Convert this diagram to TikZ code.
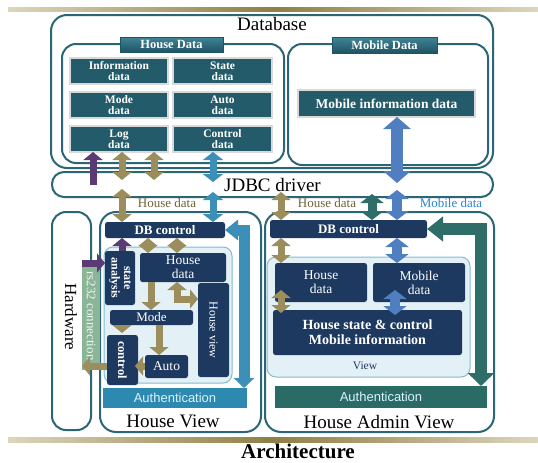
\documentclass[tikz,border=0pt]{standalone}
\usepackage{fontspec}
\setmainfont{Liberation Serif}
\newfontfamily\authfont{Liberation Sans}
\usetikzlibrary{arrows.meta}
\definecolor{tealc}{HTML}{2C6676}
\definecolor{cellc}{HTML}{245B6A}
\definecolor{navyc}{HTML}{1D3960}
\definecolor{olivec}{HTML}{9B8E5C}
\definecolor{olivet}{HTML}{6E6238}
\definecolor{bluec}{HTML}{3C8FB6}
\definecolor{mobc}{HTML}{4F7FC0}
\definecolor{mobt}{HTML}{2A86D0}
\definecolor{tgrc}{HTML}{2F6E68}
\definecolor{purc}{HTML}{5B3B73}
\definecolor{viewf}{HTML}{E3F0F6}
\definecolor{viewd}{HTML}{84BCD0}
\definecolor{rsc}{HTML}{8BB597}
\definecolor{authLc}{HTML}{2E89B0}
\definecolor{authRc}{HTML}{2B6B66}
\definecolor{goldL}{HTML}{DCD6BC}
\definecolor{goldD}{HTML}{8D7F45}
\definecolor{tabT}{HTML}{3F8496}
\definecolor{tabB}{HTML}{1F5464}
\newcommand\fsz[2][]{\fontsize{#2}{#2}\selectfont}
\newcommand\rbox[7]{\node[#2, minimum width={#5-#3}, minimum height={#6-#4}] (#1) at ({(#3+#5)/2},{(#4+#6)/2}) {#7};}
\begin{document}
\begin{tikzpicture}[x=1pt,y=-1pt,
  bx/.style={inner sep=0pt, outer sep=0pt},
  grp/.style={bx, draw=tealc, line width=2pt, rounded corners=16pt, fill=white},
  cell/.style={bx, fill=cellc, draw=black!15, line width=1.2pt, text=white, align=center, font=\bfseries\fontsize{11.5}{11}\selectfont},
  tabbox/.style={bx, top color=tabT, bottom color=tabB, draw=tabB, line width=0.6pt, text=white, font=\bfseries\fsz{12.5}},
  navyb/.style={bx, fill=navyc, rounded corners=2.5pt, text=white, align=center},
  viewb/.style={bx, fill=viewf, draw=viewd, line width=1pt, rounded corners=9pt},
  auth/.style={bx, text=white!85!cyan, font=\authfont\fontsize{13}{13}\selectfont},
  rot/.style={rotate=-90, text=white, align=center, inner sep=0pt},
  olv/.style={draw=olivec, line width=7pt, {Triangle[length=8pt,width=19pt]}-{Triangle[length=8pt,width=19pt]}},
  olv1/.style={draw=olivec, line width=7pt, -{Triangle[length=8pt,width=19pt]}},
  purp/.style={draw=purc, line width=7pt, -{Triangle[length=8pt,width=19pt]}},
  blu/.style={draw=bluec, line width=7pt, {Triangle[length=8pt,width=20pt]}-{Triangle[length=8pt,width=20pt]}},
  mob/.style={draw=mobc, line width=10pt, {Triangle[length=9pt,width=23pt]}-{Triangle[length=9pt,width=23pt]}},
  mobbig/.style={draw=mobc, line width=12pt, {Triangle[length=12pt,width=27pt]}-{Triangle[length=12pt,width=27pt]}},
  tgr/.style={draw=tgrc, line width=9pt, {Triangle[length=9pt,width=23pt]}-{Triangle[length=9pt,width=23pt]}},
  bluL/.style={draw=bluec, line width=11pt, {Triangle[length=13pt,width=20pt]}-{Triangle[length=10pt,width=20pt]}},
  tgrL/.style={draw=tgrc, line width=12pt, {Triangle[length=16pt,width=24pt]}-{Triangle[length=13pt,width=26pt]}}
]
\useasboundingbox (0,0) rectangle (538,463);
\fill[white] (0,0) rectangle (538,463);
% gold bars
\shade[left color=goldL, right color=goldL, middle color=goldD] (8,7) rectangle (538,11.5);
\shade[left color=goldL, right color=goldL, middle color=goldD] (8,437.5) rectangle (538,442);
\node[font=\bfseries\fontsize{21}{21}\selectfont] (arch) at (298,451) {Architecture};

% database
\rbox{db}{grp}{51}{15}{493}{168}{}
\node[font=\fsz{19}] (dbt) at (272,24) {Database};
\rbox{hd}{grp, rounded corners=14pt}{62}{44}{284}{163}{}
\rbox{md}{grp, rounded corners=14pt}{288}{44}{488}{165}{}
\rbox{hdtab}{tabbox}{120}{37}{223}{52}{House Data}
\rbox{mdtab}{tabbox}{332}{37}{437}{53}{Mobile Data}
\rbox{info}{cell}{70}{58}{168}{84}{Information\\data}
\rbox{stated}{cell}{173}{58}{272}{84}{State\\data}
\rbox{moded}{cell}{70}{92}{168}{118}{Mode\\data}
\rbox{autod}{cell}{173}{92}{272}{118}{Auto\\data}
\rbox{logd}{cell}{70}{126}{168}{152}{Log\\data}
\rbox{ctrld}{cell}{173}{126}{272}{152}{Control\\data}
\rbox{minfo}{cell, font=\bfseries\fsz{13.5}}{298}{90}{475}{117}{Mobile information data}

% JDBC
\rbox{jdbc}{grp, rounded corners=12pt, font=\fsz{19}}{52}{172}{493}{197}{JDBC driver}

% lower groups
\rbox{hw}{grp, rounded corners=14pt}{52}{212}{91}{430}{}
\node[rotate=-90, font=\fsz{17}] (hwt) at (71,317) {Hardware};
\rbox{hv}{grp}{100}{212}{261}{432}{}
\rbox{hav}{grp}{265}{212}{494}{432}{}
\node[font=\fsz{19}] (hvt) at (173,421) {House View};
\node[font=\fsz{19}] (havt) at (379,422) {House Admin View};

\node[text=olivet, font=\fsz{13}] (hdl1) at (167,203) {House data};
\node[text=olivet, font=\fsz{13}] (hdl2) at (327,203) {House data};
\node[text=mobt, font=\fsz{13}] (mdl) at (451,203) {Mobile data};

% left panel
\rbox{rs}{bx, fill=rsc}{82}{262}{100}{370}{}
\node[rot, text=white!88!rsc, font=\fsz{13}] (rst) at (rs.center) {rs232 connection};
\rbox{vL}{viewb}{104}{247}{232}{383}{}
\rbox{dbcL}{navyb, font=\bfseries\fsz{13}}{105}{222}{225}{238}{DB control}
\rbox{sa}{navyb}{105}{251}{135}{305}{}
\node[rot, font=\bfseries\fontsize{12}{12.5}\selectfont] (sat) at (sa.center) {state\\analysis};
\rbox{hdL}{navyb, font=\fontsize{13.5}{14}\selectfont}{140}{253}{226}{282}{House\\data}
\rbox{hvw}{navyb}{198}{283}{229}{377}{}
\node[rot, font=\fsz{12}] (hvwt) at (hvw.center) {House view};
\rbox{mode}{navyb, font=\fsz{13}}{110}{310}{193}{325}{Mode}
\rbox{ctl}{navyb}{107}{335}{138}{385}{}
\node[rot, font=\bfseries\fsz{12.5}] (ctlt) at (ctl.center) {control};
\rbox{autob}{navyb, font=\fsz{13.5}}{145}{355}{188}{378}{Auto}
\rbox{authL}{auth, fill=authLc}{103}{388}{247}{408}{Authentication}

% right panel
\rbox{vR}{viewb}{267}{257}{470}{377}{}
\node[font=\fsz{11.5}, text=navyc] (vRt) at (365,366) {View};
\rbox{dbcR}{navyb, font=\bfseries\fsz{13}}{270}{220}{427}{238}{DB control}
\rbox{hdR}{navyb, font=\fontsize{13.5}{14}\selectfont}{275}{263}{367}{302}{House\\data}
\rbox{mdR}{navyb, font=\fontsize{13.5}{14}\selectfont}{373}{263}{465}{302}{Mobile\\data}
\rbox{hs}{navyb, font=\bfseries\fontsize{14}{15}\selectfont}{273}{310}{462}{355}{House state \& control\\Mobile information}
\rbox{authR}{auth, fill=authRc}{275}{386}{487}{408}{Authentication}

% x/y reference coordinates for arrows
\coordinate (a93) at (93,0);
\coordinate (a122) at (122,0);
\coordinate (a154) at (154,0);
\coordinate (a213) at (213,0);
\coordinate (a397) at (397,0);
\coordinate (a395) at (395,0);
\coordinate (a281) at (281,0);
\coordinate (a372) at (372,0);
\coordinate (a244) at (244,0);
\coordinate (a481) at (481,0);
\coordinate (a148) at (148,0);
\coordinate (a177) at (177,0);
\coordinate (a151) at (151,0);
\coordinate (a159) at (159,0);
\coordinate (y263) at (0,263);
\coordinate (y299) at (0,299);
\coordinate (y366) at (0,366);

% database <-> JDBC
\draw[purp] (a93 |- jdbc.center) -- (a93 |- logd.south);
\draw[olv] (a122 |- logd.south) -- ([yshift=-8pt]a122 |- jdbc.north);
\draw[olv] (a154 |- logd.south) -- ([yshift=-8pt]a154 |- jdbc.north);
\draw[blu] (a213 |- ctrld.south) -- ([yshift=-10pt]a213 |- jdbc.north);
\draw[mobbig] (a397 |- minfo.south) -- ([yshift=-11pt]a397 |- jdbc.north);

% JDBC <-> DB control
\draw[olv] ([yshift=8pt]a122 |- jdbc.south) -- (a122 |- dbcL.north);
\draw[blu] ([yshift=5pt]a213 |- jdbc.south) -- (a213 |- dbcL.north);
\draw[olv] ([yshift=5pt]a281 |- jdbc.south) -- (a281 |- dbcR.north);
\draw[tgr] ([yshift=3pt]a372 |- jdbc.south) -- (a372 |- dbcR.north);
\draw[mob] ([yshift=7pt]a397 |- jdbc.south) -- (a397 |- dbcR.north);

% right panel arrows
\draw[olv] (a281 |- dbcR.south) -- (a281 |- hdR.north);
\draw[mob] (a397 |- dbcR.south) -- (a397 |- mdR.north);
\draw[olv] ([yshift=12pt]a281 |- hdR.south) -- ([yshift=-3pt]a281 |- hs.north);
\draw[mob] ([yshift=12pt]a395 |- mdR.south) -- ([yshift=-5pt]a395 |- hs.north);
\draw[tgrL] (dbcR.east) -| (a481 |- authR.north);

% left panel arrows
\draw[bluL] (dbcL.east) -| (a244 |- authL.north);
\draw[olv] (a148 |- dbcL.south) -- (a148 |- hdL.north);
\draw[olv] (a177 |- dbcL.south) -- (a177 |- hdL.north);
\draw[purp] (a122 |- sa.north) -- (a122 |- dbcL.south);
\draw[purp] (rs.west |- y263) -- (sa.west |- y263);
\draw[olv1] (a151 |- hdL.south) -- (a151 |- mode.north);
\draw[olv] (a177 |- hdL.south) |- (hvw.west |- y299);
\draw[olv1] (a122 |- mode.south) -- ([yshift=2pt]a122 |- ctl.north);
\draw[olv1] (a159 |- mode.south) -- (a159 |- autob.north);
\draw[olv1] (autob.west |- y366) -- ([xshift=-3pt]ctl.east |- y366);
\draw[olv1] (ctl.west |- y366) -- (rs.west |- y366);
\end{tikzpicture}
\end{document}
